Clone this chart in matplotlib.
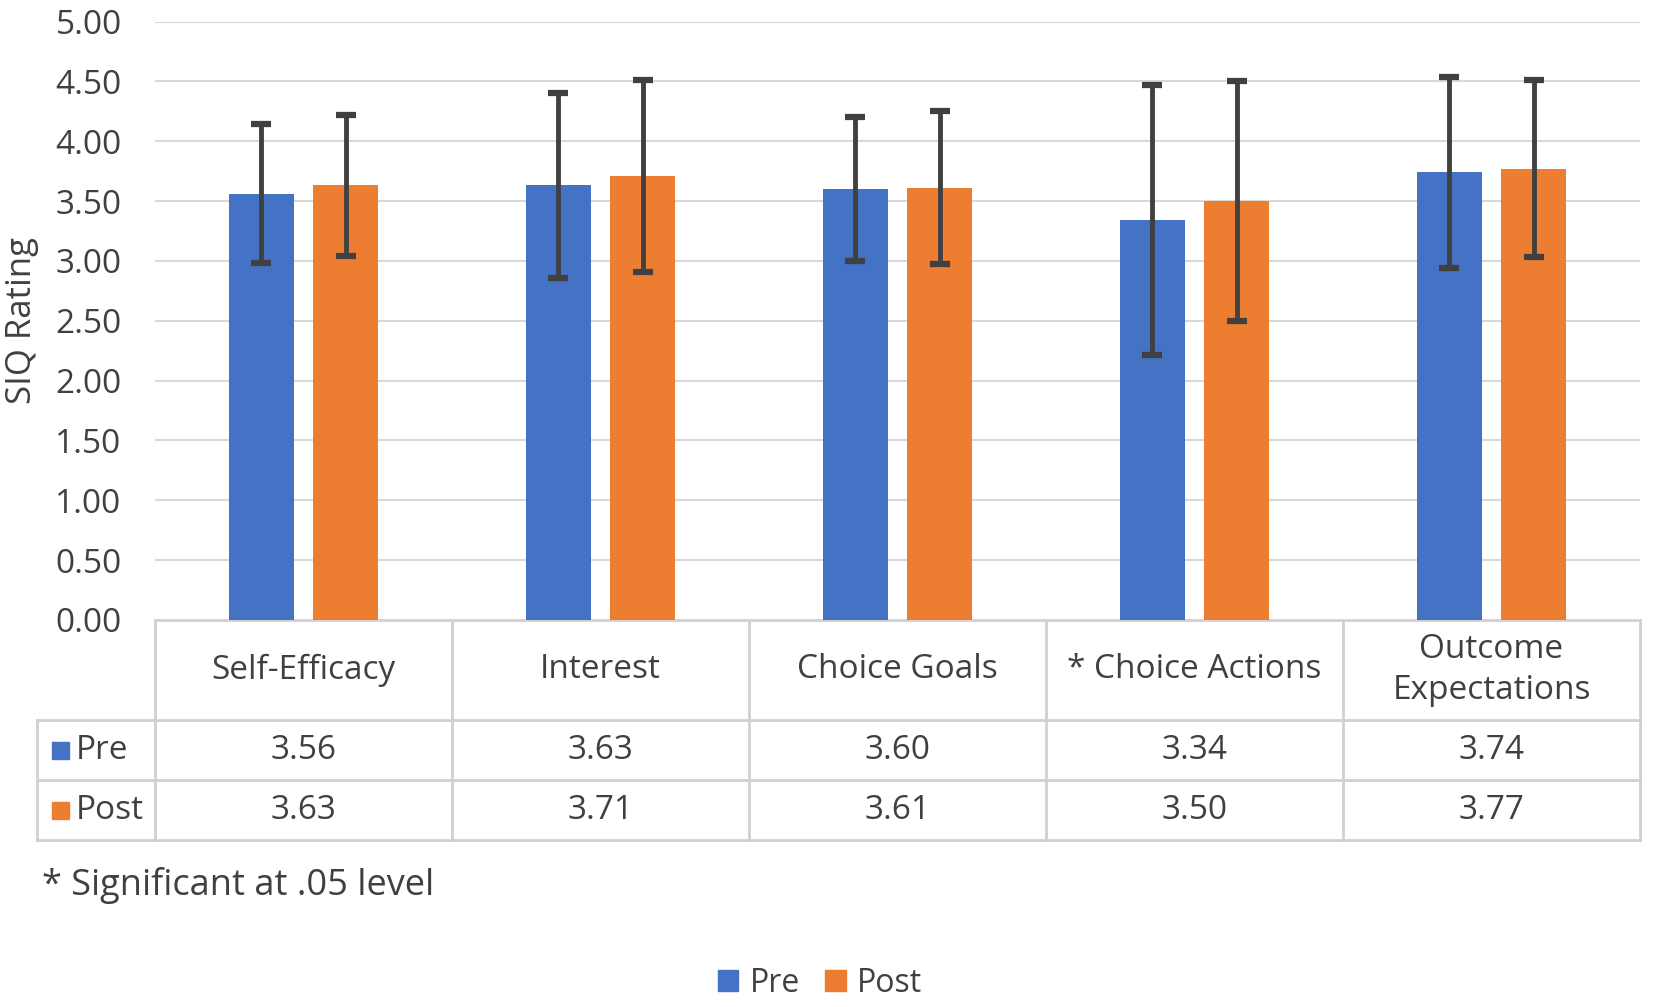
import numpy as np
import matplotlib.pyplot as plt
from matplotlib.patches import Rectangle

plt.rcParams['font.family'] = ['Open Sans', 'DejaVu Sans']

categories = ['Self-Efficacy', 'Interest', 'Choice Goals', '* Choice Actions',
              'Outcome\nExpectations']
pre = [3.56, 3.63, 3.60, 3.34, 3.74]
post = [3.63, 3.71, 3.61, 3.50, 3.77]
pre_err = [0.58, 0.77, 0.60, 1.13, 0.80]
post_err = [0.59, 0.80, 0.64, 1.00, 0.74]
series_names = ['Pre', 'Post']
yticks = np.arange(0, 5.01, 0.5)
footnote = '* Significant at .05 level'

BLUE = '#4472C4'
ORANGE = '#ED7D31'
TEXT = '#404040'
GRID = '#D9D9D9'
LINE = '#D0D0D0'
FS = 24

W, H = 1654, 1007
fig = plt.figure(figsize=(W / 100, H / 100), dpi=100)
ax = fig.add_axes([155 / W, 1 - 620 / H, 1485 / W, 598.5 / H])

x = np.arange(len(categories))
bw = 0.22
off = 0.142
err_kw = dict(ecolor='#404040', elinewidth=3.5, capsize=7, capthick=4.5)
ax.bar(x - off, pre, bw, color=BLUE, yerr=pre_err, error_kw=err_kw, zorder=3)
ax.bar(x + off, post, bw, color=ORANGE, yerr=post_err, error_kw=err_kw, zorder=3)

ax.set_xlim(-0.5, len(categories) - 0.5)
ax.set_ylim(0, 5)
ax.set_yticks(yticks)
ax.set_yticklabels([f'{v:.2f}' for v in yticks], fontsize=FS, color=TEXT)
ax.tick_params(axis='y', length=0, pad=24)
ax.set_xticks([])
ax.yaxis.grid(True, color=GRID, linewidth=1.5, zorder=0)
for s in ax.spines.values():
    s.set_visible(False)
ax.set_ylabel('SIQ Rating', fontsize=25, color=TEXT, labelpad=12)

# data table under the plot
tr = ax.get_xaxis_transform()
rows = [0, -0.167, -0.268, -0.368]
x_left = -0.897
x0, x1 = -0.5, len(categories) - 0.5
lk = dict(color=LINE, linewidth=2, transform=tr, clip_on=False, zorder=1)
ax.plot([x0, x1], [rows[0], rows[0]], **lk)
for r in rows[1:]:
    ax.plot([x_left, x1], [r, r], **lk)
for b in np.arange(x0, x1 + 0.01, 1.0):
    ax.plot([b, b], [rows[0], rows[-1]], **lk)
ax.plot([x_left, x_left], [rows[1], rows[-1]], **lk)

for i, cat in enumerate(categories):
    ax.text(i, (rows[0] + rows[1]) / 2, cat, transform=tr, ha='center', va='center',
            fontsize=FS, color=TEXT, linespacing=1.35)
    ax.text(i, (rows[1] + rows[2]) / 2, f'{pre[i]:.2f}', transform=tr, ha='center',
            va='center', fontsize=FS, color=TEXT)
    ax.text(i, (rows[2] + rows[3]) / 2, f'{post[i]:.2f}', transform=tr, ha='center',
            va='center', fontsize=FS, color=TEXT)

for k, (name, col) in enumerate(zip(series_names, [BLUE, ORANGE])):
    yc = (rows[k + 1] + rows[k + 2]) / 2
    ax.add_patch(Rectangle((x_left + 0.05, yc - 0.014), 0.057, 0.028, color=col,
                           transform=tr, clip_on=False))
    ax.text(x_left + 0.13, yc, name, transform=tr, ha='left', va='center',
            fontsize=FS, color=TEXT)

fig.text(42 / W, 1 - 886 / H, footnote, ha='left', va='center', fontsize=26, color=TEXT)

handles = [Rectangle((0, 0), 1, 1, color=c) for c in [BLUE, ORANGE]]
fig.legend(handles, series_names, loc='center', bbox_to_anchor=(820 / W, 1 - 983 / H),
           ncol=2, frameon=False, fontsize=23, labelcolor=TEXT, handlelength=0.65,
           handleheight=0.65, handletextpad=0.35, columnspacing=0.8)

fig.savefig('out.png', dpi=100)
